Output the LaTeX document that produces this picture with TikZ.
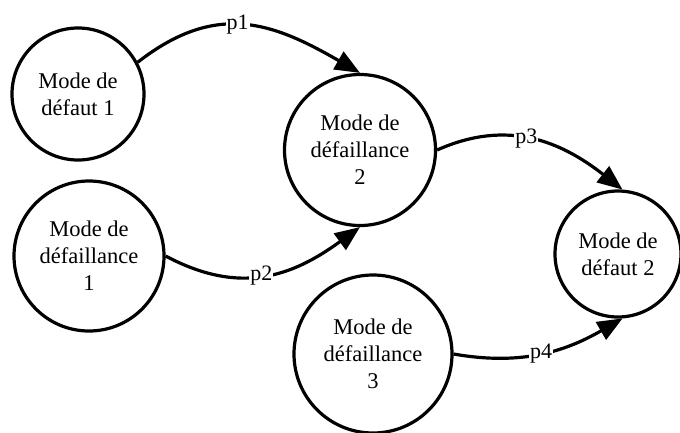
\documentclass[tikz,border=0pt]{standalone}
\usepackage{fontspec}
\setmainfont{Liberation Serif}
\usetikzlibrary{arrows.meta}
\begin{document}
\begin{tikzpicture}[x=1pt,y=-1pt,
  state/.style={circle,draw,line width=3.2pt,inner sep=0pt,align=center,
    font=\fontsize{22.5}{27}\selectfont},
  link/.style={line width=3.2pt,-{Triangle[length=25pt,width=20pt]}},
  lbl/.style={fill=white,inner sep=1pt,font=\fontsize{22}{24}\selectfont}]
\useasboundingbox[fill=white] (0,0) rectangle (680,432);
\node[state,minimum size=132pt] (d1) at (78,94) {Mode de\\défaut 1};
\node[state,minimum size=150pt] (f1) at (89,256) {Mode de\\défaillance\\1};
\node[state,minimum size=151pt] (f2) at (360,150) {Mode de\\défaillance\\2};
\node[state,minimum size=126pt] (d2) at (618,254) {Mode de\\défaut 2};
\node[state,minimum size=158pt] (f3) at (373,354) {Mode de\\défaillance\\3};
\draw[link] (d1.28) to[out=38,in=150,looseness=1.15] node[lbl,pos=0.46] {p1} (f2.north);
\draw[link] (f1.east) to[out=-28,in=216,looseness=1.1] node[lbl,pos=0.48] {p2} (f2.south);
\draw[link] (f2.east) to[out=24,in=142,looseness=1.05] node[lbl,pos=0.46] {p3} (d2.86);
\draw[link] (f3.east) to[out=-10,in=210,looseness=1.0] node[lbl,pos=0.5] {p4} (d2.-86);
\end{tikzpicture}
\end{document}
